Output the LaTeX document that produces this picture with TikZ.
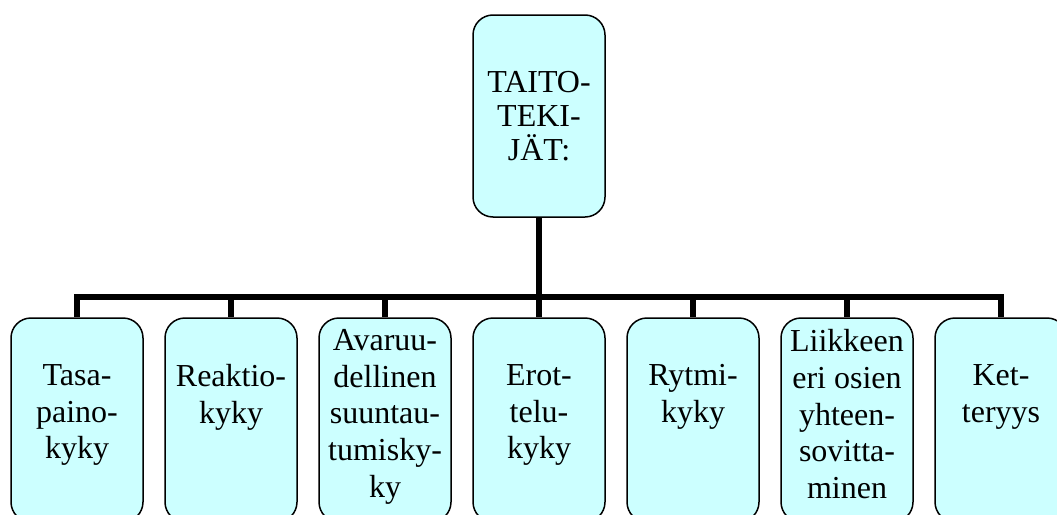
\documentclass[tikz,border=0pt]{standalone}
\usepackage{fontspec}
\setmainfont{Liberation Serif}
\usepackage{tikz}
\usetikzlibrary{positioning}
\definecolor{boxbg}{HTML}{CCFFFF}

\begin{document}
\begin{tikzpicture}[x=1pt, y=-1pt,
  box/.style={draw=black, line width=1.5pt, fill=boxbg, rounded corners=20pt,
    minimum width=132pt, minimum height=204pt, inner sep=0pt},
  boxtext/.style={align=center, inner sep=0pt, anchor=north,
    font=\fontsize{32}{36.7}\selectfont, execute at begin node=\strut},
  stem/.style={line width=6pt}]
  \clip (0,0) rectangle (1057,514);

  % top box
  \node[box, minimum height=202pt, align=center,
    font=\fontsize{32}{34}\selectfont] (top) at (539,116) {TAITO-\\TEKI-\\JÄT:};
  \coordinate (bar) at (539,297);

  % 7 skill boxes
  \foreach \i/\gap/\txt in {1/47/{Tasa-\\paino-\\kyky},
      2/47/{Reaktio-\\kyky},
      3/12/{Avaruu-\\dellinen\\suuntau-\\tumisky-\\ky},
      4/47/{Erot-\\telu-\\kyky},
      5/47/{Rytmi-\\kyky},
      6/12/{Liikkeen\\eri osien\\yhteen-\\sovitta-\\minen},
      7/47/{Ket-\\teryys}} {
    \node[box] (b\i) at ({77+154*(\i-1)}, 420) {};
    \node[boxtext, below=\gap pt of b\i.north] (t\i) {\txt};
    \draw[stem] (top.south) -- (bar) -| (b\i.north);
  }
\end{tikzpicture}
\end{document}
